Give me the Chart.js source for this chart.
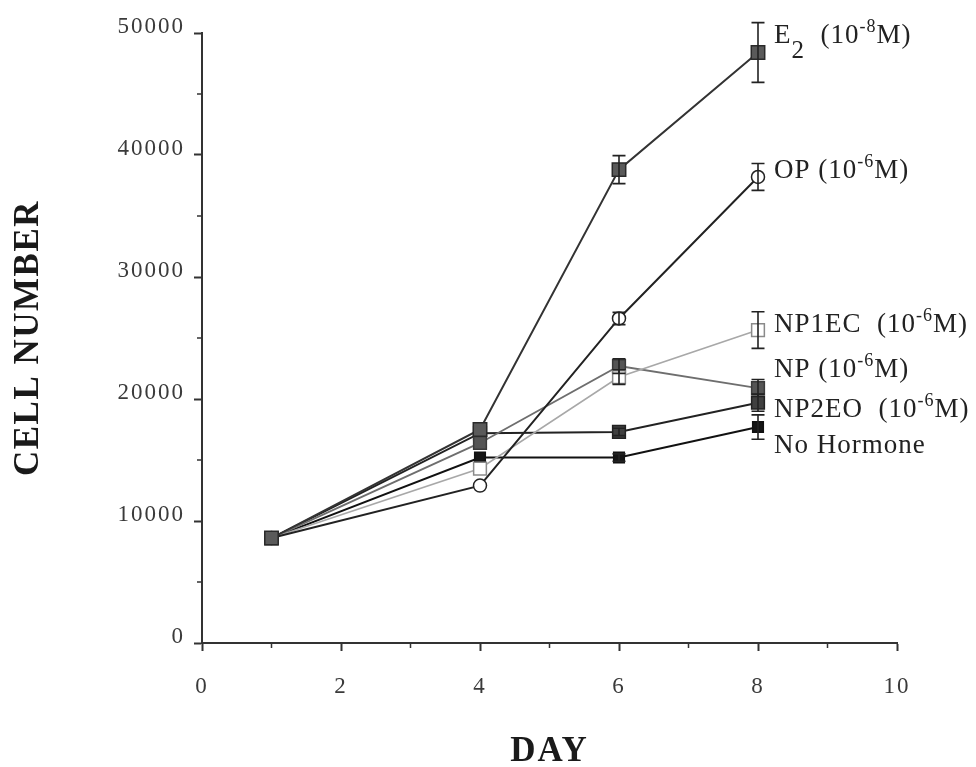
<!DOCTYPE html>
<html>
<head>
<meta charset="utf-8">
<script src="https://cdn.jsdelivr.net/npm/chart.js@4.4.1/dist/chart.umd.min.js"></script>
<style>
  html, body { margin: 0; padding: 0; background: #ffffff; }
  #wrap { width: 976px; height: 767px; }
</style>
</head>
<body>
<div id="wrap"><canvas id="c" width="976" height="767"></canvas></div>
<script>
// ---- data ----
const days = [1, 4, 6, 8];
const e2Values = [8600, 17500, 38800, 48400];
const e2Errors = [0, 0, 1150, 2450];
const opValues = [8600, 12900, 26600, 38200];
const opErrors = [0, 0, 500, 1100];
const np1ecValues = [8600, 14300, 21800, 25650];
const np1ecErrors = [0, 0, 600, 1500];
const npValues = [8600, 16400, 22700, 20900];
const npErrors = [0, 0, 600, 700];
const np2eoValues = [8600, 17200, 17300, 19700];
const np2eoErrors = [0, 0, 300, 700];
const noHormoneValues = [8600, 15200, 15200, 17700];
const noHormoneErrors = [0, 0, 300, 1000];
const xTickLabels = [0, 2, 4, 6, 8, 10];
const yTickLabels = [0, 10000, 20000, 30000, 40000, 50000];

// series labels: [text, kind] where kind = 'n' normal, 'sub', 'sup'
const e2Label = [['E', 'n'], ['2', 'sub'], ['  (10', 'n'], ['-8', 'sup'], ['M)', 'n']];
const opLabel = [['OP (10', 'n'], ['-6', 'sup'], ['M)', 'n']];
const np1ecLabel = [['NP1EC  (10', 'n'], ['-6', 'sup'], ['M)', 'n']];
const npLabel = [['NP (10', 'n'], ['-6', 'sup'], ['M)', 'n']];
const np2eoLabel = [['NP2EO  (10', 'n'], ['-6', 'sup'], ['M)', 'n']];
const noHormoneLabel = [['No Hormone', 'n']];
// value level (cell number) of each label's baseline
const labelLevels = [49150, 38100, 25500, 21800, 18500, 15550];

const toPts = (vals) => vals.map((v, i) => ({ x: days[i], y: v }));

const seriesDefs = [
  { vals: e2Values, errs: e2Errors, label: e2Label, line: '#333333', lw: 2, style: 'rect', r: 9.5, fill: '#5a5a5a', border: '#2a2a2a' },
  { vals: opValues, errs: opErrors, label: opLabel, line: '#222222', lw: 2, style: 'circle', r: 6.5, fill: '#ffffff', border: '#222222' },
  { vals: np1ecValues, errs: np1ecErrors, label: np1ecLabel, line: '#a8a8a8', lw: 1.6, style: 'rect', r: 9, fill: '#ffffff', border: '#8a8a8a' },
  { vals: npValues, errs: npErrors, label: npLabel, line: '#6e6e6e', lw: 1.8, style: 'rect', r: 9, fill: '#555555', border: '#3a3a3a' },
  { vals: np2eoValues, errs: np2eoErrors, label: np2eoLabel, line: '#222222', lw: 2, style: 'rect', r: 9, fill: '#404040', border: '#222222' },
  { vals: noHormoneValues, errs: noHormoneErrors, label: noHormoneLabel, line: '#111111', lw: 2, style: 'rect', r: 7.5, fill: '#151515', border: '#111111' }
];

const SERIF = '"Liberation Serif", "Times New Roman", serif';

// ---- plugins ----
const spacingPlugin = {
  id: 'spacing',
  afterUpdate(chart) {
    Object.values(chart.scales).forEach(scale => {
      if (scale._spacingWrapped) return;
      scale._spacingWrapped = true;
      const tickSpacing = '2px';
      const titleSpacing = scale.axis === 'y' ? '1.5px' : '2px';
      const wrap = (name, sp) => {
        const orig = scale[name];
        scale[name] = function (...args) {
          const ctx = this.ctx;
          const prev = ctx.letterSpacing;
          ctx.letterSpacing = sp;
          try { orig.apply(this, args); } finally { ctx.letterSpacing = prev; }
        };
      };
      wrap('drawLabels', tickSpacing);
      wrap('drawTitle', titleSpacing);
    });
  }
};

const minorTickPlugin = {
  id: 'minorTicks',
  afterDraw(chart) {
    const { ctx, scales: { x, y } } = chart;
    ctx.save();
    ctx.strokeStyle = '#333333';
    ctx.lineWidth = 1.5;
    ctx.beginPath();
    x.ticks.forEach(t => {
      if (t.value % 2 !== 0) {
        const px = x.getPixelForValue(t.value);
        ctx.moveTo(px, x.top);
        ctx.lineTo(px, x.top + 5);
      }
    });
    y.ticks.forEach(t => {
      if (t.value % 10000 !== 0) {
        const py = y.getPixelForValue(t.value);
        ctx.moveTo(y.right, py);
        ctx.lineTo(y.right - 5, py);
      }
    });
    ctx.stroke();
    ctx.restore();
  }
};

const errorBarPlugin = {
  id: 'errorBars',
  afterDatasetsDraw(chart) {
    const { ctx, scales: { x, y } } = chart;
    ctx.save();
    ctx.strokeStyle = '#222222';
    ctx.lineWidth = 1.6;
    seriesDefs.forEach(s => {
      s.errs.forEach((e, i) => {
        if (!e) return;
        const px = x.getPixelForValue(days[i]);
        const t = y.getPixelForValue(s.vals[i] + e);
        const b = y.getPixelForValue(s.vals[i] - e);
        ctx.beginPath();
        ctx.moveTo(px, t); ctx.lineTo(px, b);
        ctx.moveTo(px - 6.5, t); ctx.lineTo(px + 6.5, t);
        ctx.moveTo(px - 6.5, b); ctx.lineTo(px + 6.5, b);
        ctx.stroke();
      });
    });
    ctx.restore();
  }
};

const seriesLabelPlugin = {
  id: 'seriesLabels',
  afterDraw(chart) {
    const { ctx, scales: { x, y } } = chart;
    ctx.save();
    ctx.fillStyle = '#222222';
    ctx.textBaseline = 'alphabetic';
    ctx.textAlign = 'left';
    ctx.letterSpacing = '1px';
    const lastDay = days[days.length - 1];
    seriesDefs.forEach((s, k) => {
      let px = x.getPixelForValue(lastDay) + 16;
      const base = y.getPixelForValue(labelLevels[k]);
      s.label.forEach(([txt, kind]) => {
        let size = 27, dy = 0;
        if (kind === 'sub') { size = 25; dy = 15; }
        if (kind === 'sup') { size = 18; dy = -11; }
        ctx.font = size + 'px ' + SERIF;
        ctx.fillText(txt, px, base + dy);
        px += ctx.measureText(txt).width;
      });
    });
    ctx.restore();
  }
};

// ---- chart ----
const datasets = seriesDefs.map(s => ({
  data: toPts(s.vals),
  borderColor: s.line,
  borderWidth: s.lw,
  pointStyle: s.style,
  pointRadius: s.r,
  pointHoverRadius: s.r,
  pointBackgroundColor: s.fill,
  pointBorderColor: s.border,
  pointBorderWidth: 1.5,
  tension: 0,
  fill: false
}));

new Chart(document.getElementById('c'), {
  type: 'line',
  data: { datasets },
  options: {
    responsive: false,
    devicePixelRatio: 1,
    animation: false,
    events: [],
    layout: { padding: { top: 33, right: 79, left: 0, bottom: 0 } },
    plugins: {
      legend: { display: false },
      tooltip: { enabled: false }
    },
    scales: {
      x: {
        type: 'linear',
        min: 0, max: 10,
        afterFit(scale) { scale.height = 124; },
        ticks: {
          stepSize: 1,
          padding: 22,
          color: '#3a3a3a',
          font: { family: SERIF, size: 23 },
          maxRotation: 0,
          autoSkip: false,
          callback: (v) => xTickLabels.includes(v) ? String(v) : ''
        },
        grid: {
          drawOnChartArea: false,
          drawTicks: true,
          tickLength: 8,
          tickWidth: 2,
          tickColor: (c) => (c.tick && c.tick.value % 2 === 0) ? '#333333' : 'rgba(0,0,0,0)'
        },
        border: { display: true, color: '#333333', width: 2 },
        title: {
          display: true,
          text: 'DAY',
          color: '#1a1a1a',
          font: { family: SERIF, size: 35, weight: 'bold', lineHeight: 0.85 },
          padding: { top: 0, bottom: 0 }
        }
      },
      y: {
        type: 'linear',
        min: 0, max: 50000,
        afterFit(scale) { scale.width = 202; },
        ticks: {
          stepSize: 5000,
          padding: 9,
          labelOffset: -6,
          color: '#3a3a3a',
          font: { family: SERIF, size: 23 },
          autoSkip: false,
          callback: (v) => yTickLabels.includes(v) ? String(v) : ''
        },
        grid: {
          drawOnChartArea: false,
          drawTicks: true,
          tickLength: 8,
          tickWidth: 2,
          tickColor: (c) => (c.tick && c.tick.value % 10000 === 0) ? '#333333' : 'rgba(0,0,0,0)'
        },
        border: { display: true, color: '#333333', width: 2 },
        title: {
          display: true,
          text: 'CELL NUMBER',
          color: '#1a1a1a',
          font: { family: SERIF, size: 35, weight: 'bold', lineHeight: 1 },
          padding: { top: 11, bottom: 0 }
        }
      }
    }
  },
  plugins: [spacingPlugin, minorTickPlugin, errorBarPlugin, seriesLabelPlugin]
});
</script>
</body>
</html>
